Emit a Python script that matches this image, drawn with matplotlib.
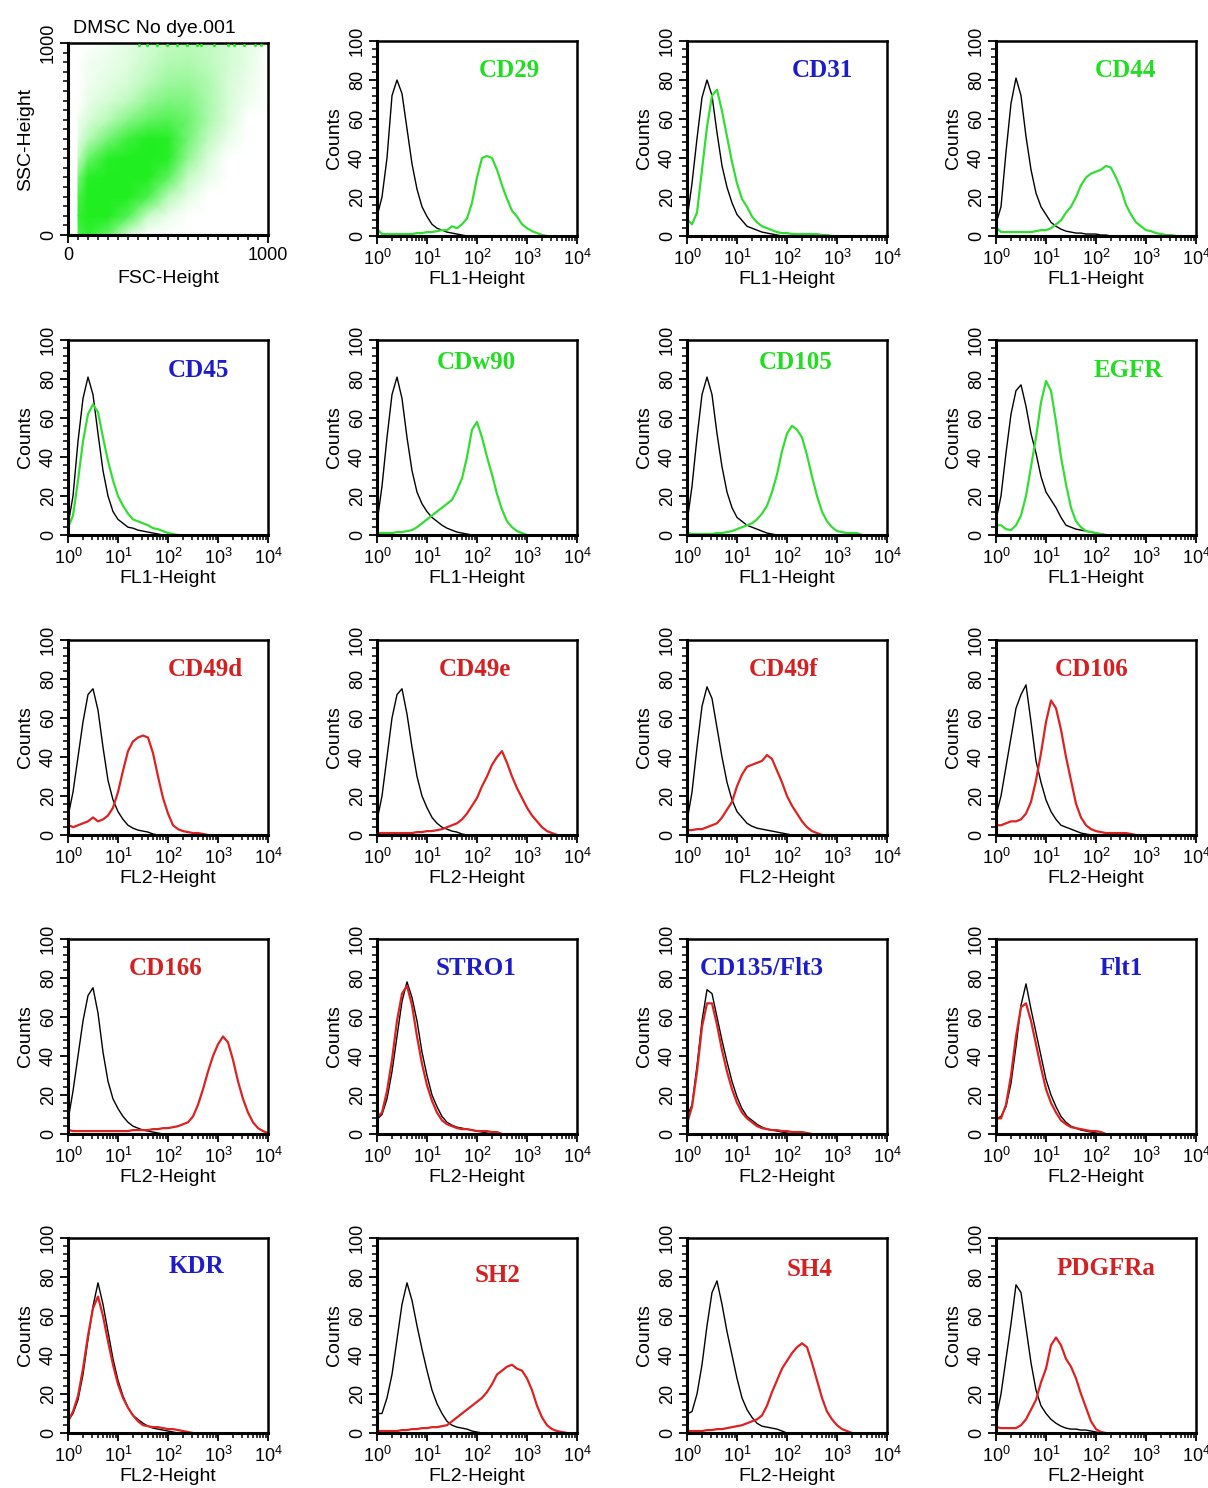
import numpy as np
import matplotlib
matplotlib.use("Agg")
import matplotlib.pyplot as plt
from matplotlib.ticker import MultipleLocator, LogLocator, NullFormatter, FixedLocator
from matplotlib.colors import LinearSegmentedColormap, PowerNorm

# ---- data ---------------------------------------------------------------
# histogram channel positions, log10 of fluorescence (10^0 .. 10^4)
LOG_CHANNEL = [0.0, 0.02, 0.1, 0.2, 0.3, 0.4, 0.5, 0.6, 0.7, 0.8, 0.9, 1.0, 1.1, 1.2,
               1.3, 1.4, 1.5, 1.6, 1.7, 1.8, 1.9, 2.0, 2.1, 2.2, 2.3, 2.4, 2.5, 2.6,
               2.7, 2.8, 2.9, 3.0, 3.1, 3.2, 3.3, 3.4, 3.5, 3.6, 3.7, 3.8, 3.9, 4.0]

# counts, isotype control (black) and stained sample (coloured)
CTRL_CD29 = [58, 12, 20, 40, 72, 80, 73, 55, 37, 24, 15, 10, 6, 4, 3, 2, 1.5, 1, 0.5, 0]
CD29 = [4, 3, 1, 1, 1, 1, 1, 1, 1, 1.5, 1.5, 2, 2, 2.5, 3, 3, 5, 4, 6, 9, 17, 30, 40,
        41, 40, 34, 26, 19, 13, 10, 6, 4, 2.5, 1.5, 0.5, 0]
CTRL_CD31 = [60, 12, 27, 50, 71, 80, 72, 53, 36, 25, 17, 11, 8, 5, 4, 3, 2, 1.5, 1, 0.5, 0]
CD31 = [9, 8, 6, 12, 34, 56, 72, 75, 64, 51, 38, 27, 19, 15, 10, 7, 5, 4, 3, 2, 1.5,
        1.5, 1, 1, 1, 1, 1, 1, 0.5, 0.5, 0]
CTRL_CD44 = [55, 8, 15, 43, 68, 81, 72, 51, 34, 22, 15, 11, 7, 5, 3.5, 2.5, 2, 1.5, 1.5,
             1, 1, 1, 0.5, 0.5, 0]
CD44 = [6, 4, 2, 2, 2, 2, 2, 2, 2, 2.5, 3, 3, 4, 6, 8, 12, 15, 20, 26, 30, 32, 33, 34,
        36, 35, 30, 24, 16, 11, 7, 5, 3, 2.5, 1.5, 1, 0.5, 0.5, 0]
CTRL_CD45 = [55, 8, 20, 48, 70, 81, 72, 52, 33, 20, 12, 8, 6, 4, 3.5, 2.5, 2, 1.5, 1, 0.5, 0]
CD45 = [4, 5, 10, 28, 48, 62, 67, 63, 50, 38, 28, 20, 15, 11, 8, 7, 6, 5, 3.5, 3, 2, 1,
        0.5, 0]
CTRL_CDW90 = [55, 10, 25, 50, 72, 81, 70, 50, 33, 22, 16, 12, 9, 7, 5, 3.5, 2.5, 1.5, 1,
              0.5, 0]
CDW90 = [1, 1, 1, 1, 1, 1.5, 1.5, 2, 2.5, 4, 6, 8, 10, 12, 14, 16, 18, 23, 29, 40, 54,
         58, 50, 40, 31, 21, 13, 7, 4, 2, 1, 0]
CTRL_CD105 = [55, 10, 25, 50, 72, 81, 72, 52, 35, 22, 14, 9, 7, 5, 4, 3, 2, 1, 0.5, 0]
CD105 = [1, 1, 0.5, 0.5, 0.5, 0.5, 0.5, 1, 1, 1.5, 2, 3, 4, 5, 6, 8, 11, 15, 22, 31, 43,
         52, 56, 54, 50, 41, 30, 20, 12, 7, 4, 2, 1.5, 1, 1, 1, 0]
CTRL_EGFR = [52, 10, 20, 42, 62, 74, 77, 66, 52, 42, 30, 22, 18, 14, 9, 5, 4, 3, 2.5, 2,
             1.5, 1, 0.5, 0]
EGFR = [4, 5, 5, 3, 2.5, 5, 10, 20, 35, 50, 68, 79, 74, 58, 40, 26, 14, 7, 4, 2, 1.5, 1,
        0.5, 0]
CTRL_CD49D = [55, 12, 22, 40, 58, 72, 75, 64, 45, 28, 18, 12, 8, 5, 3.5, 2.5, 2, 1.5, 0.5, 0]
CD49D = [14, 5, 4, 5, 6, 7, 9, 7, 8, 10, 14, 22, 33, 43, 48, 50, 51, 50, 42, 30, 19, 11,
         5, 3, 2, 1.5, 1, 1, 0.5, 0]
CTRL_CD49E = [55, 10, 20, 40, 60, 72, 75, 62, 45, 30, 20, 14, 9, 6, 4, 3, 2, 1.5, 0.5, 0]
CD49E = [2, 1, 1, 1, 1, 1, 1, 1, 1, 1.5, 1.5, 2, 2, 2.5, 3, 4, 5, 6, 8, 11, 15, 19, 25,
         30, 36, 40, 43, 37, 30, 24, 19, 14, 10, 7, 4, 2, 1, 0]
CTRL_CD49F = [55, 10, 22, 45, 66, 76, 70, 55, 40, 27, 18, 12, 9, 6, 4.5, 3.5, 3, 2.5, 2,
              1.5, 1, 0.5, 0]
CD49F = [3, 2.5, 2.5, 3, 3, 4, 5, 6, 9, 13, 17, 25, 31, 35, 36, 37, 38, 41, 39, 33, 27,
         20, 15, 11, 7, 4, 2, 1, 0]
CTRL_CD106 = [55, 12, 20, 35, 50, 65, 72, 77, 58, 38, 27, 18, 12, 8, 5, 4, 3, 2, 1, 0.5, 0]
CD106 = [4, 5, 5, 6, 7, 7, 8, 11, 17, 28, 42, 58, 69, 65, 54, 40, 28, 16, 9, 5, 3, 2,
         1.5, 1, 1, 1, 1, 1, 0.5, 0]
CTRL_CD166 = [55, 10, 22, 40, 58, 71, 75, 62, 42, 27, 18, 13, 9, 6, 4, 3, 2, 1.5, 1, 0.5, 0]
CD166 = [3, 2, 1.5, 1.5, 1.5, 1.5, 1.5, 1.5, 1.5, 1.5, 1.5, 1.5, 1.5, 1.5, 2, 2, 2, 2,
         2.5, 2.5, 3, 3, 3.5, 4, 5, 6, 9, 15, 23, 32, 40, 46, 50, 47, 38, 27, 18, 11, 6,
         3, 1.5, 0.5]
CTRL_STRO1 = [9, 8, 10, 18, 32, 50, 68, 78, 70, 58, 42, 30, 20, 14, 9, 6, 4.5, 3.5, 3,
              2.5, 2, 1.5, 1, 0.5, 0]
STRO1 = [10, 9, 11, 22, 38, 58, 72, 76, 66, 50, 36, 25, 17, 11, 7, 5, 4, 3, 2.5, 2.5, 2,
         1.5, 1.5, 1.5, 1, 1, 0]
CTRL_CD135 = [10, 10, 15, 35, 58, 74, 72, 60, 48, 37, 27, 19, 13, 9, 7, 5, 3.5, 2.5, 2,
              1.5, 1, 0.5, 0]
CD135 = [8, 7, 14, 32, 55, 67, 67, 56, 43, 32, 23, 16, 11, 8, 6, 4, 3, 2.5, 2, 2, 1.5,
         1.5, 1, 1, 1, 0.5, 0]
CTRL_FLT1 = [8, 8, 9, 14, 26, 45, 66, 77, 64, 52, 40, 28, 20, 14, 9, 6, 4, 3, 2, 1.5, 1,
             0.5, 0]
FLT1 = [10, 8, 8, 15, 30, 50, 65, 67, 58, 46, 34, 23, 16, 11, 7, 5, 3.5, 3, 2.5, 2, 1.5,
        1.5, 1, 0]
CTRL_KDR = [7, 7, 10, 17, 30, 48, 65, 77, 66, 52, 38, 27, 19, 13, 9, 7, 5, 3.5, 2.5, 2,
            1.5, 1, 0.5, 0]
KDR = [7, 7, 11, 19, 33, 50, 64, 70, 60, 47, 35, 25, 18, 13, 9, 6, 4, 3.5, 3, 3, 2.5, 2,
       2, 1.5, 1, 0.5, 0]
CTRL_SH2 = [53, 10, 10, 18, 30, 48, 66, 77, 68, 55, 43, 32, 22, 15, 10, 6, 4, 3, 2.5, 2,
            1, 0.5, 0]
SH2 = [1, 1, 1, 1, 1, 1, 1.5, 1.5, 2, 2, 2.5, 2.5, 3, 3, 3.5, 4, 6, 8, 10, 12, 14, 16,
       18, 21, 25, 30, 32, 34, 35, 33, 32, 28, 22, 14, 8, 4, 2, 1, 0.5, 0]
CTRL_SH4 = [55, 10, 11, 20, 35, 55, 72, 78, 66, 52, 40, 28, 18, 12, 8, 5, 3.5, 3, 2.5, 2,
            1, 0]
SH4 = [1, 1, 1, 1, 1, 1.5, 1.5, 2, 2, 2.5, 3, 3.5, 4, 5, 6, 7, 9, 14, 21, 27, 33, 37,
       41, 44, 46, 44, 36, 27, 18, 11, 7, 4, 2, 1, 0]
CTRL_PDGFRA = [55, 10, 20, 38, 56, 76, 72, 54, 36, 22, 14, 10, 7, 5, 3.5, 2.5, 2, 2, 1.5,
               1.5, 1, 0.5, 0]
PDGFRA = [10, 3, 2.5, 2.5, 2.5, 2.5, 4, 7, 12, 17, 26, 33, 45, 49, 45, 38, 34, 28, 20,
          13, 6, 2, 0.5, 0]

MARKERS = ["CD29", "CD31", "CD44", "CD45", "CDw90", "CD105", "EGFR",
           "CD49d", "CD49e", "CD49f", "CD106", "CD166", "STRO1", "CD135/Flt3",
           "Flt1", "KDR", "SH2", "SH4", "PDGFRa"]
CHANNELS = ["FL1", "FL1", "FL1", "FL1", "FL1", "FL1", "FL1",
            "FL2", "FL2", "FL2", "FL2", "FL2", "FL2", "FL2",
            "FL2", "FL2", "FL2", "FL2", "FL2"]
LABEL_GROUP = ["g", "b", "g", "b", "g", "g", "g",
               "r", "r", "r", "r", "r", "b", "b",
               "b", "b", "r", "r", "r"]
CONTROLS = [CTRL_CD29, CTRL_CD31, CTRL_CD44, CTRL_CD45, CTRL_CDW90, CTRL_CD105,
            CTRL_EGFR, CTRL_CD49D, CTRL_CD49E, CTRL_CD49F, CTRL_CD106, CTRL_CD166,
            CTRL_STRO1, CTRL_CD135, CTRL_FLT1, CTRL_KDR, CTRL_SH2, CTRL_SH4,
            CTRL_PDGFRA]
STAINED = [CD29, CD31, CD44, CD45, CDW90, CD105, EGFR, CD49D, CD49E, CD49F, CD106,
           CD166, STRO1, CD135, FLT1, KDR, SH2, SH4, PDGFRA]

# FSC/SSC dot plot, read as a coarse event density (0-100) on a node grid
FSC_NODES = [50, 100, 200, 300, 400, 500, 600, 700, 800, 900, 1000]
SSC_NODES = [0, 100, 200, 300, 400, 500, 600, 700, 800, 900, 1000]
EVENT_DENSITY = [
    [70, 90, 55, 5, 0, 0, 0, 0, 0, 0, 0],
    [85, 100, 100, 65, 10, 2, 0, 0, 0, 0, 0],
    [70, 100, 100, 100, 70, 15, 3, 0, 0, 0, 0],
    [40, 95, 100, 100, 100, 60, 10, 2, 0, 0, 0],
    [10, 50, 95, 100, 100, 95, 30, 5, 0, 0, 0],
    [3, 15, 45, 80, 100, 95, 45, 12, 2, 0, 0],
    [1, 5, 15, 35, 55, 65, 50, 20, 5, 0, 0],
    [0, 2, 6, 12, 28, 40, 38, 20, 6, 1, 0],
    [0, 1, 3, 6, 14, 25, 26, 18, 6, 2, 0],
    [0, 1, 2, 4, 9, 16, 18, 13, 7, 3, 0],
    [0, 0, 1, 3, 7, 12, 14, 12, 7, 3, 0],
]
# events piled up at the SSC ceiling
SATURATED_FSC = [353, 395, 445, 496, 546, 597, 647, 664, 731, 798, 832, 882, 933, 966]

# ---- style ----------------------------------------------------------------
COLORS = {"g": "#22dd22", "b": "#1c1cc8", "r": "#d42020"}
LINE_COLORS = {"FL1": "#33dd33", "FL2": "#dd2222"}
LABEL_XY = [(.66, .85), (.675, .85), (.645, .85),
            (.65, .846), (.495, .887), (.545, .887), (.66, .846),
            (.685, .851), (.49, .851), (.48, .851), (.48, .851),
            (.49, .851), (.495, .851), (.375, .851), (.625, .851),
            (.64, .856), (.605, .81), (.615, .836), (.55, .846)]

plt.rcParams['font.family'] = ['Liberation Sans', 'DejaVu Sans']
plt.rcParams['mathtext.fontset'] = 'custom'
plt.rcParams['mathtext.rm'] = 'Liberation Sans'
plt.rcParams['mathtext.it'] = 'Liberation Sans'
plt.rcParams['mathtext.default'] = 'regular'

W, H = 1208, 1488
COL_LEFT = [68, 377, 687, 996]
ROW_TOP = [41, 340, 640, 939, 1238]
AX_W, AX_H = 200, 195

fig = plt.figure(figsize=(W / 100, H / 100), dpi=100)


def add_panel(col, row, top=None, h=AX_H):
    t = ROW_TOP[row] if top is None else top
    return fig.add_axes([COL_LEFT[col] / W, 1 - (t + h) / H, AX_W / W, h / H])


def style_frame(ax):
    for side in ["top", "right"]:
        ax.spines[side].set_linewidth(1.8)
    for side in ["left", "bottom"]:
        ax.spines[side].set_linewidth(2.2)
    ax.tick_params(which="both", direction="out", colors="black")
    ax.tick_params(which="major", length=6, width=1.3, labelsize=13, pad=2)
    ax.tick_params(axis="x", which="major", pad=3)
    ax.tick_params(which="minor", length=3.5, width=1.1)
    ax.tick_params(axis="y", labelrotation=90)
    for lab in ax.get_yticklabels():
        lab.set_va("center")


# scatter panel
ax = add_panel(0, 0, top=43, h=192)
dens = np.array(EVENT_DENSITY, dtype=float)
cmap = LinearSegmentedColormap.from_list("events", ["white", "#20ee20"])
ax.pcolormesh(FSC_NODES, SSC_NODES, dens, shading="gouraud", cmap=cmap,
              norm=PowerNorm(gamma=0.6, vmin=0, vmax=100), rasterized=True)
ax.scatter(SATURATED_FSC, [992] * len(SATURATED_FSC), s=5, color="#20ee20",
           linewidths=0, zorder=3)
ax.set_xlim(0, 1000)
ax.set_ylim(0, 1000)
ax.xaxis.set_major_locator(FixedLocator([0, 1000]))
ax.yaxis.set_major_locator(FixedLocator([0, 1000]))
ax.xaxis.set_minor_locator(MultipleLocator(50))
ax.yaxis.set_minor_locator(MultipleLocator(50))
style_frame(ax)
ax.set_xlabel("FSC-Height", fontsize=14, labelpad=4)
ax.set_ylabel("SSC-Height", fontsize=14, labelpad=4)
ax.text(0.025, 1.03, "DMSC No dye.001", transform=ax.transAxes, fontsize=14,
        ha="left", va="bottom")

# histogram panels
channel_x = 10 ** np.array(LOG_CHANNEL)
for i, name in enumerate(MARKERS):
    k = i + 1
    row, col = divmod(k, 4)
    ax = add_panel(col, row)
    ctrl = CONTROLS[i]
    stain = STAINED[i]
    ax.plot(channel_x[:len(ctrl)], ctrl, color="black", lw=1.0, zorder=2)
    ax.plot(channel_x[:len(stain)], stain, color=LINE_COLORS[CHANNELS[i]], lw=1.6,
            zorder=2.2)
    ax.set_xscale("log")
    ax.set_xlim(1, 1e4)
    ax.set_ylim(0, 100)
    ax.xaxis.set_major_locator(LogLocator(base=10, numticks=10))
    ax.xaxis.set_minor_locator(LogLocator(base=10, subs=np.arange(2, 10), numticks=20))
    ax.xaxis.set_minor_formatter(NullFormatter())
    ax.yaxis.set_major_locator(MultipleLocator(20))
    ax.yaxis.set_minor_locator(MultipleLocator(4))
    style_frame(ax)
    ax.set_xlabel(CHANNELS[i] + "-Height", fontsize=14, labelpad=2)
    ax.set_ylabel("Counts", fontsize=14, labelpad=4)
    lx, ly = LABEL_XY[i]
    ax.text(lx, ly, name, transform=ax.transAxes, ha="center", va="center",
            fontsize=18, fontweight="bold", family="Liberation Serif",
            color=COLORS[LABEL_GROUP[i]])

fig.savefig("out.png", dpi=100)
